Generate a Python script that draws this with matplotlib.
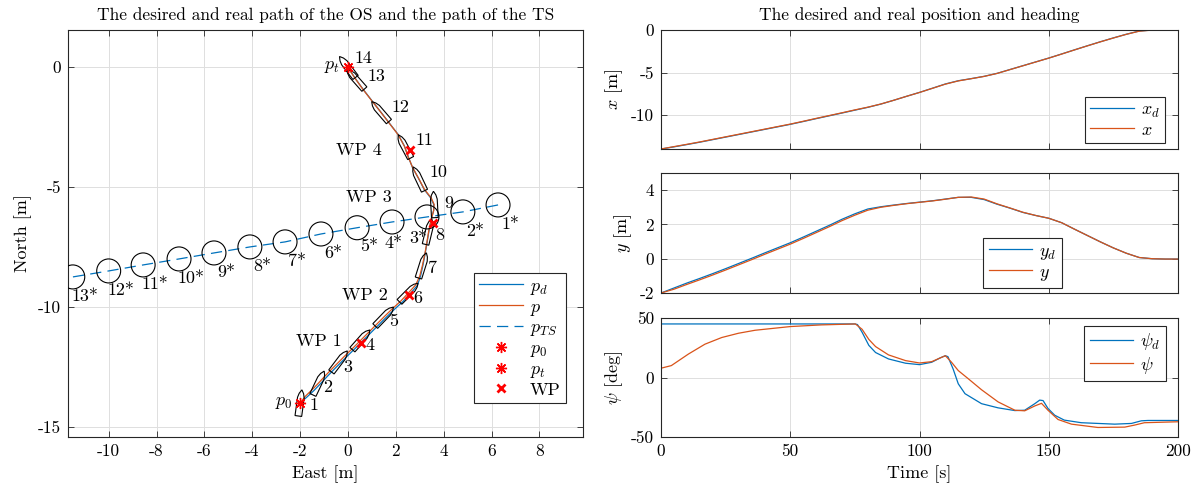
import numpy as np
import matplotlib
matplotlib.use('Agg')
import matplotlib.pyplot as plt
from matplotlib.patches import Polygon, Circle

plt.rcParams['font.family'] = 'serif'
plt.rcParams['font.serif'] = ['cmr10']
plt.rcParams['mathtext.fontset'] = 'cm'
plt.rcParams['axes.unicode_minus'] = False
plt.rcParams['axes.formatter.use_mathtext'] = False

BLUE = '#0072BD'
ORANGE = '#D95319'
GRID = '#dedede'
EDGE = '#262626'

# --- time series of position (x = North, y = East) ---
t_pos = np.arange(0, 205, 5)
x_d = [-14.0, -13.75, -13.48, -13.2, -12.9, -12.6, -12.3, -12.0, -11.7, -11.4,
       -11.1, -10.77, -10.43, -10.1, -9.77, -9.43, -9.1, -8.72, -8.27, -7.8,
       -7.34, -6.85, -6.35, -5.97, -5.72, -5.45, -5.1, -4.65, -4.2, -3.75,
       -3.3, -2.82, -2.33, -1.85, -1.38, -0.93, -0.5, -0.12, 0.0, 0.0, 0.0]
x_real = [-14.0, -13.72, -13.45, -13.17, -12.87, -12.57, -12.27, -11.97, -11.67, -11.37,
          -11.07, -10.74, -10.4, -10.07, -9.74, -9.4, -9.08, -8.71, -8.27, -7.8,
          -7.35, -6.86, -6.37, -5.99, -5.73, -5.46, -5.11, -4.66, -4.21, -3.76,
          -3.31, -2.83, -2.34, -1.86, -1.39, -0.94, -0.51, -0.14, -0.01, 0.0, 0.0]
y_d = [-2.0, -1.71, -1.42, -1.15, -0.87, -0.58, -0.28, 0.02, 0.33, 0.63,
       0.93, 1.26, 1.6, 1.94, 2.3, 2.62, 2.9, 3.03, 3.13, 3.22,
       3.3, 3.38, 3.48, 3.58, 3.58, 3.45, 3.18, 2.95, 2.7, 2.52,
       2.36, 2.1, 1.72, 1.35, 0.98, 0.63, 0.32, 0.07, 0.0, -0.02, -0.02]
y_real = [-2.0, -1.78, -1.5, -1.23, -0.95, -0.66, -0.36, -0.06, 0.25, 0.55,
          0.85, 1.18, 1.52, 1.86, 2.22, 2.54, 2.83, 3.0, 3.11, 3.21,
          3.29, 3.37, 3.47, 3.58, 3.6, 3.48, 3.2, 2.96, 2.71, 2.52,
          2.36, 2.1, 1.72, 1.35, 0.98, 0.63, 0.32, 0.07, 0.0, -0.02, -0.02]

# --- heading ---
t_psid = [0, 75, 76, 77.8, 80.4, 83, 88, 94.6, 100, 104.7, 108, 110, 111, 113, 115,
          117.6, 124, 130.4, 136.9, 140.7, 144.6, 146.5, 147.8, 149.7, 152.3, 156,
          162.6, 175.5, 182, 185.8, 188.4, 200]
psi_d = [45, 45, 44.5, 38, 27, 21, 15.6, 12, 10.8, 12.8, 16.5, 18.3, 17.5, 7.2, -5.3,
         -13.6, -22, -25.5, -27.8, -27.5, -22, -19, -19.4, -26, -31.7, -35.8,
         -38, -39.2, -38.6, -36.4, -36.1, -36.1]
t_psi = [0, 4, 10.6, 17, 23.5, 30, 36.4, 50, 62, 75.2, 77.8, 80.4, 83, 88, 94.6,
         100, 104.7, 110, 112.4, 115, 118.9, 124, 130.4, 136.9, 140.7, 144.6, 147.2,
         149.7, 153.6, 158.8, 169, 179.4, 183.2, 187, 200]
psi = [7.8, 10, 19.7, 28, 33.6, 37.2, 39.7, 42.8, 44.2, 45, 40.5, 32, 26, 19, 14.2,
       12.2, 13.3, 18.3, 12.8, 5.8, -1.1, -10.3, -20.5, -27.5, -28, -23.9, -21.7,
       -27.5, -35.3, -39.2, -42, -41.7, -40, -38, -37.2]

# --- waypoints, start / target ---
wp_east = [0.54, 2.55, 3.55, 2.59]
wp_north = [-11.5, -9.5, -6.5, -3.46]
wp_names = ['WP 1', 'WP 2', 'WP 3', 'WP 4']
p0 = (-2.0, -14.0)
pt = (0.0, 0.0)

# --- target ship positions (every 15 s) ---
ts_east = [6.27, 4.8, 3.3, 1.84, 0.38, -1.13, -2.63, -4.1, -5.6, -7.06, -8.56, -10.0, -11.5, -13.0]
ts_north = [-5.75, -6.04, -6.25, -6.46, -6.7, -6.96, -7.29, -7.5, -7.75, -8.0, -8.25, -8.5, -8.75, -9.0]

ship_t = list(range(0, 200, 15))

FS = 13
fig = plt.figure(figsize=(11.98, 4.93), dpi=100)


def style(ax):
    ax.tick_params(direction='in', top=True, right=True, length=4, width=0.6,
                   labelsize=12.5, color=EDGE, pad=5)
    for s in ax.spines.values():
        s.set_color(EDGE)
        s.set_linewidth(0.8)
    ax.grid(True, color=GRID, lw=0.7)
    ax.set_axisbelow(True)


def leg(ax, **kw):
    lg = ax.legend(fancybox=False, edgecolor=EDGE, framealpha=1, fontsize=FS,
                   handlelength=2.4, borderaxespad=0, handletextpad=0.4,
                   borderpad=0.3, labelspacing=0.12, **kw)
    lg.get_frame().set_linewidth(0.8)
    return lg


# ---------------- left: path plot ----------------
ax = fig.add_axes([68 / 1198, 56 / 493, 515 / 1198, 407 / 493])
style(ax)
ax.plot(y_d, x_d, color=BLUE, lw=0.9, label='$p_d$')
ax.plot(y_real, x_real, color=ORANGE, lw=0.9, label='$p$')
ax.plot(ts_east, ts_north, color=BLUE, lw=0.9, ls=(0, (9, 5)), label='$p_{TS}$')

# ship outlines
L, B = 1.1, 0.28
hull_f = np.array([-0.5, 0.2, 0.36, 0.5, 0.36, 0.2, -0.5, -0.5]) * L
hull_s = np.array([-0.5, -0.5, -0.33, 0.0, 0.33, 0.5, 0.5, -0.5]) * B
s_e = np.interp(ship_t, t_pos, y_real)
s_n = np.interp(ship_t, t_pos, x_real)
s_h = np.radians(np.interp(ship_t, t_psi, psi))
lab_off = [(9, -2), (5, -4), (4, -6), (4, -6), (5, -5), (4, -6), (6, -3),
           (7, -4), (10, 1), (11, 6), (11, 6), (11, 4), (12, 3), (7, 9)]
for k in range(len(ship_t)):
    e = s_e[k] + hull_f * np.sin(s_h[k]) + hull_s * np.cos(s_h[k])
    n = s_n[k] + hull_f * np.cos(s_h[k]) - hull_s * np.sin(s_h[k])
    ax.add_patch(Polygon(np.column_stack([e, n]), closed=True, fill=False,
                         edgecolor='black', lw=0.8, zorder=3))
    ax.annotate(str(k + 1), (s_e[k], s_n[k]), xytext=(lab_off[k][0] * 0.72, lab_off[k][1] * 0.72),
                textcoords='offset points', ha='left', va='center', fontsize=FS)

# target ship circles
ts_off = [(12, -19)] * len(ts_east)
ts_off[2] = (-9, -21)
ts_off[3] = (1, -21)
for k in range(len(ts_east)):
    ax.add_patch(Circle((ts_east[k], ts_north[k]), 0.5, fill=False, edgecolor='black', lw=0.8, zorder=3))
    ax.annotate(f'{k + 1}*', (ts_east[k], ts_north[k]), xytext=(ts_off[k][0] * 0.72, ts_off[k][1] * 0.72),
                textcoords='offset points', ha='center', va='center', fontsize=FS,
                annotation_clip=True)

ax.plot(*p0, ls='none', marker=(8, 2, 0), color='red', ms=8, mew=1.0, zorder=5, label='$p_0$')
ax.plot(*pt, ls='none', marker=(8, 2, 0), color='red', ms=8, mew=1.0, zorder=5, label='$p_t$')
ax.plot(wp_east, wp_north, ls='none', marker='x', color='red', ms=5.5, mew=2, zorder=5, label='WP')

ax.annotate('$p_0$', p0, xytext=(-16 * 0.72, 0), textcoords='offset points',
            ha='center', va='center', fontsize=FS)
ax.annotate('$p_t$', pt, xytext=(-16 * 0.72, 0), textcoords='offset points',
            ha='center', va='center', fontsize=FS)
wp_off = [(-42, 2), (-44, 0), (-64, 26), (-51, 0)]
for k in range(len(wp_east)):
    ax.annotate(wp_names[k], (wp_east[k], wp_north[k]), xytext=(wp_off[k][0] * 0.72, wp_off[k][1] * 0.72),
                textcoords='offset points', ha='center', va='center', fontsize=FS)

ax.set_xlim(-11.7, 9.82)
ax.set_ylim(-15.42, 1.54)
ax.set_xticks(np.arange(-10, 9, 2))
ax.set_yticks([-15, -10, -5, 0])
ax.set_xlabel('East [m]', fontsize=FS)
ax.set_ylabel('North [m]', fontsize=FS)
ax.set_title('The desired and real path of the OS and the path of the TS', fontsize=12.5, pad=7)
leg(ax, loc='lower right', bbox_to_anchor=(0.967, 0.083))

# ---------------- right: time series ----------------
rl, rw = 661 / 1198, 517 / 1198
ax1 = fig.add_axes([rl, 344 / 493, rw, 119 / 493])
ax2 = fig.add_axes([rl, 200 / 493, rw, 120 / 493])
ax3 = fig.add_axes([rl, 56 / 493, rw, 119 / 493])

for a in (ax1, ax2, ax3):
    style(a)
    a.set_xlim(0, 200)
    a.set_xticks([0, 50, 100, 150, 200])

ax1.plot(t_pos, x_d, color=BLUE, lw=0.9, label='$x_d$')
ax1.plot(t_pos, x_real, color=ORANGE, lw=0.9, label='$x$')
ax1.set_ylim(-14, 0)
ax1.set_yticks([-10, -5, 0])
ax1.set_xticklabels([])
ax1.set_ylabel('$x$ [m]', fontsize=FS)
ax1.set_title('The desired and real position and heading', fontsize=12.5, pad=7)
leg(ax1, loc='lower right', bbox_to_anchor=(0.975, 0.05))

ax2.plot(t_pos, y_d, color=BLUE, lw=0.9, label='$y_d$')
ax2.plot(t_pos, y_real, color=ORANGE, lw=0.9, label='$y$')
ax2.set_ylim(-2, 5)
ax2.set_yticks([-2, 0, 2, 4])
ax2.set_xticklabels([])
ax2.set_ylabel('$y$ [m]', fontsize=FS)
leg(ax2, loc='lower right', bbox_to_anchor=(0.776, 0.042))

ax3.plot(t_psid, psi_d, color=BLUE, lw=0.9, label=r'$\psi_d$')
ax3.plot(t_psi, psi, color=ORANGE, lw=0.9, label=r'$\psi$')
ax3.set_ylim(-50, 50)
ax3.set_yticks([-50, 0, 50])
ax3.set_ylabel(r'$\psi$ [deg]', fontsize=FS)
ax3.set_xlabel('Time [s]', fontsize=FS)
leg(ax3, loc='upper right', bbox_to_anchor=(0.977, 0.933))

fig.savefig('out.png', dpi=100)
